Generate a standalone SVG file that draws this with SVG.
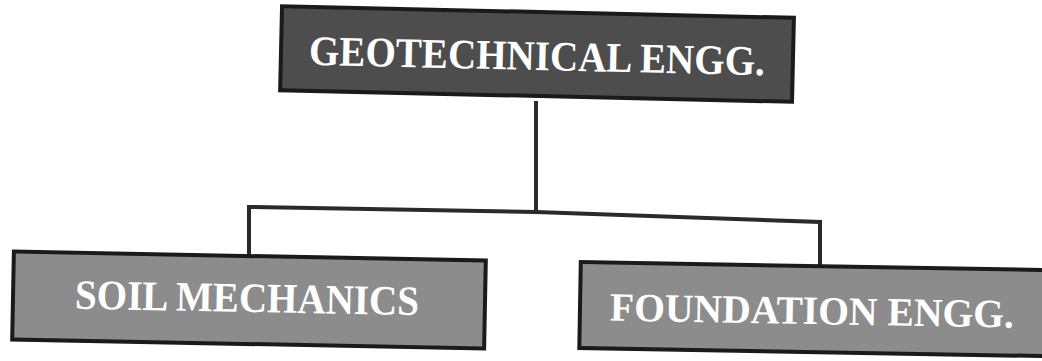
<svg xmlns="http://www.w3.org/2000/svg" width="1042" height="361" viewBox="0 0 1042 361">
<style>
.box{stroke:#1a1a1a;stroke-width:4}
.dark{fill:#4d4d4d}
.light{fill:#8c8c8c}
.lbl{font-family:"Liberation Serif","Times New Roman",serif;font-weight:bold;fill:#ffffff;text-anchor:middle}
.conn{fill:none;stroke:#2a2a2a;stroke-width:4;stroke-linejoin:miter}
</style>
<rect width="1042" height="361" fill="#ffffff"/>
<g id="connectors">
<path class="conn" d="M536,101 V211"/>
<path class="conn" d="M249,255 V207 L536,212 L820,222 V265"/>
</g>
<g id="geotechnical" transform="rotate(1.3 537 55)">
<rect class="box dark" x="281" y="12" width="512" height="84"/>
<text class="lbl" x="537" y="70" font-size="42" textLength="456" lengthAdjust="spacingAndGlyphs">GEOTECHNICAL ENGG.</text>
</g>
<g id="soil" transform="rotate(1.1 249 300)">
<rect class="box light" x="13" y="256" width="472" height="88"/>
<text class="lbl" x="247" y="312" font-size="42" textLength="344" lengthAdjust="spacingAndGlyphs">SOIL MECHANICS</text>
</g>
<g id="foundation" transform="rotate(1 810 310)">
<rect class="box light" x="580" y="266" width="470" height="86"/>
<text class="lbl" x="812" y="324" font-size="40" textLength="404" lengthAdjust="spacingAndGlyphs">FOUNDATION ENGG.</text>
</g>
</svg>
